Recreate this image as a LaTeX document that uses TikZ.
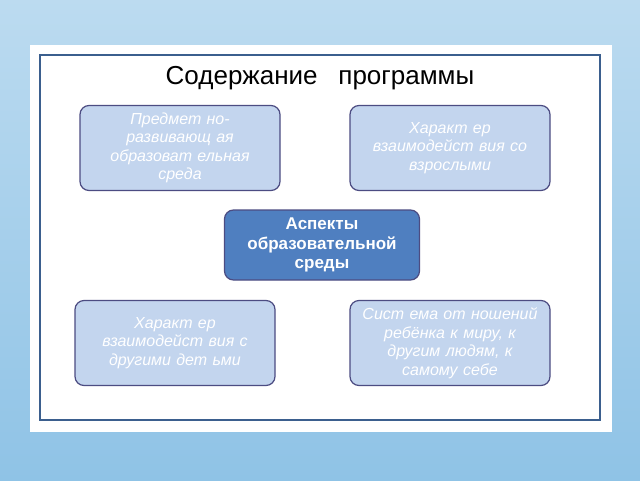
\documentclass[tikz,border=0pt]{standalone}
\usepackage{fontspec}
\setmainfont{Liberation Sans}
\begin{document}
\begin{tikzpicture}[x=1pt,y=-1pt,
  box/.style={draw=blue!30!black!70, line width=1.2pt, rounded corners=9pt, fill=lite, text=white, font=\fontsize{16}{18.5}\selectfont\itshape, align=center, minimum width=200pt, minimum height=85pt, text width=185pt, inner sep=2pt},
  cbox/.style={box, fill=midb, font=\fontsize{17}{19.5}\selectfont\bfseries, minimum width=195pt, minimum height=70pt, text width=190pt}]
\definecolor{bg}{HTML}{8FC3E6}
\definecolor{lite}{HTML}{C3D5EE}
\definecolor{midb}{HTML}{4F7FC0}
\definecolor{frame}{HTML}{3B5F8E}
\useasboundingbox (0,0) rectangle (640,480);
\shade[top color=bg!60, bottom color=bg] (0,0) rectangle (640,480);
\fill[white] (30,45) rectangle (612,432);
\draw[frame, line width=1.5pt] (40,55) rectangle (600,420);
\node (t) at (320,78) {\fontsize{26}{30}\selectfont Содержание\hspace{0.8em}программы};
\node[box] (a) at (180,148) {Предмет но-\\развивающ ая\\образоват ельная\\среда};
\node[box] (b) at (450,148) {Характ ер\\взаимодейст вия со\\взрослыми};
\node[cbox] (c) at (322,245) {Аспекты\\образовательной\\среды};
\node[box] (d) at (175,343) {Характ ер\\взаимодейст вия с\\другими дет ьми};
\node[box] (e) at (450,343) {Сист ема от ношений\\ребёнка к миру, к\\другим людям, к\\самому себе};
\end{tikzpicture}
\end{document}
